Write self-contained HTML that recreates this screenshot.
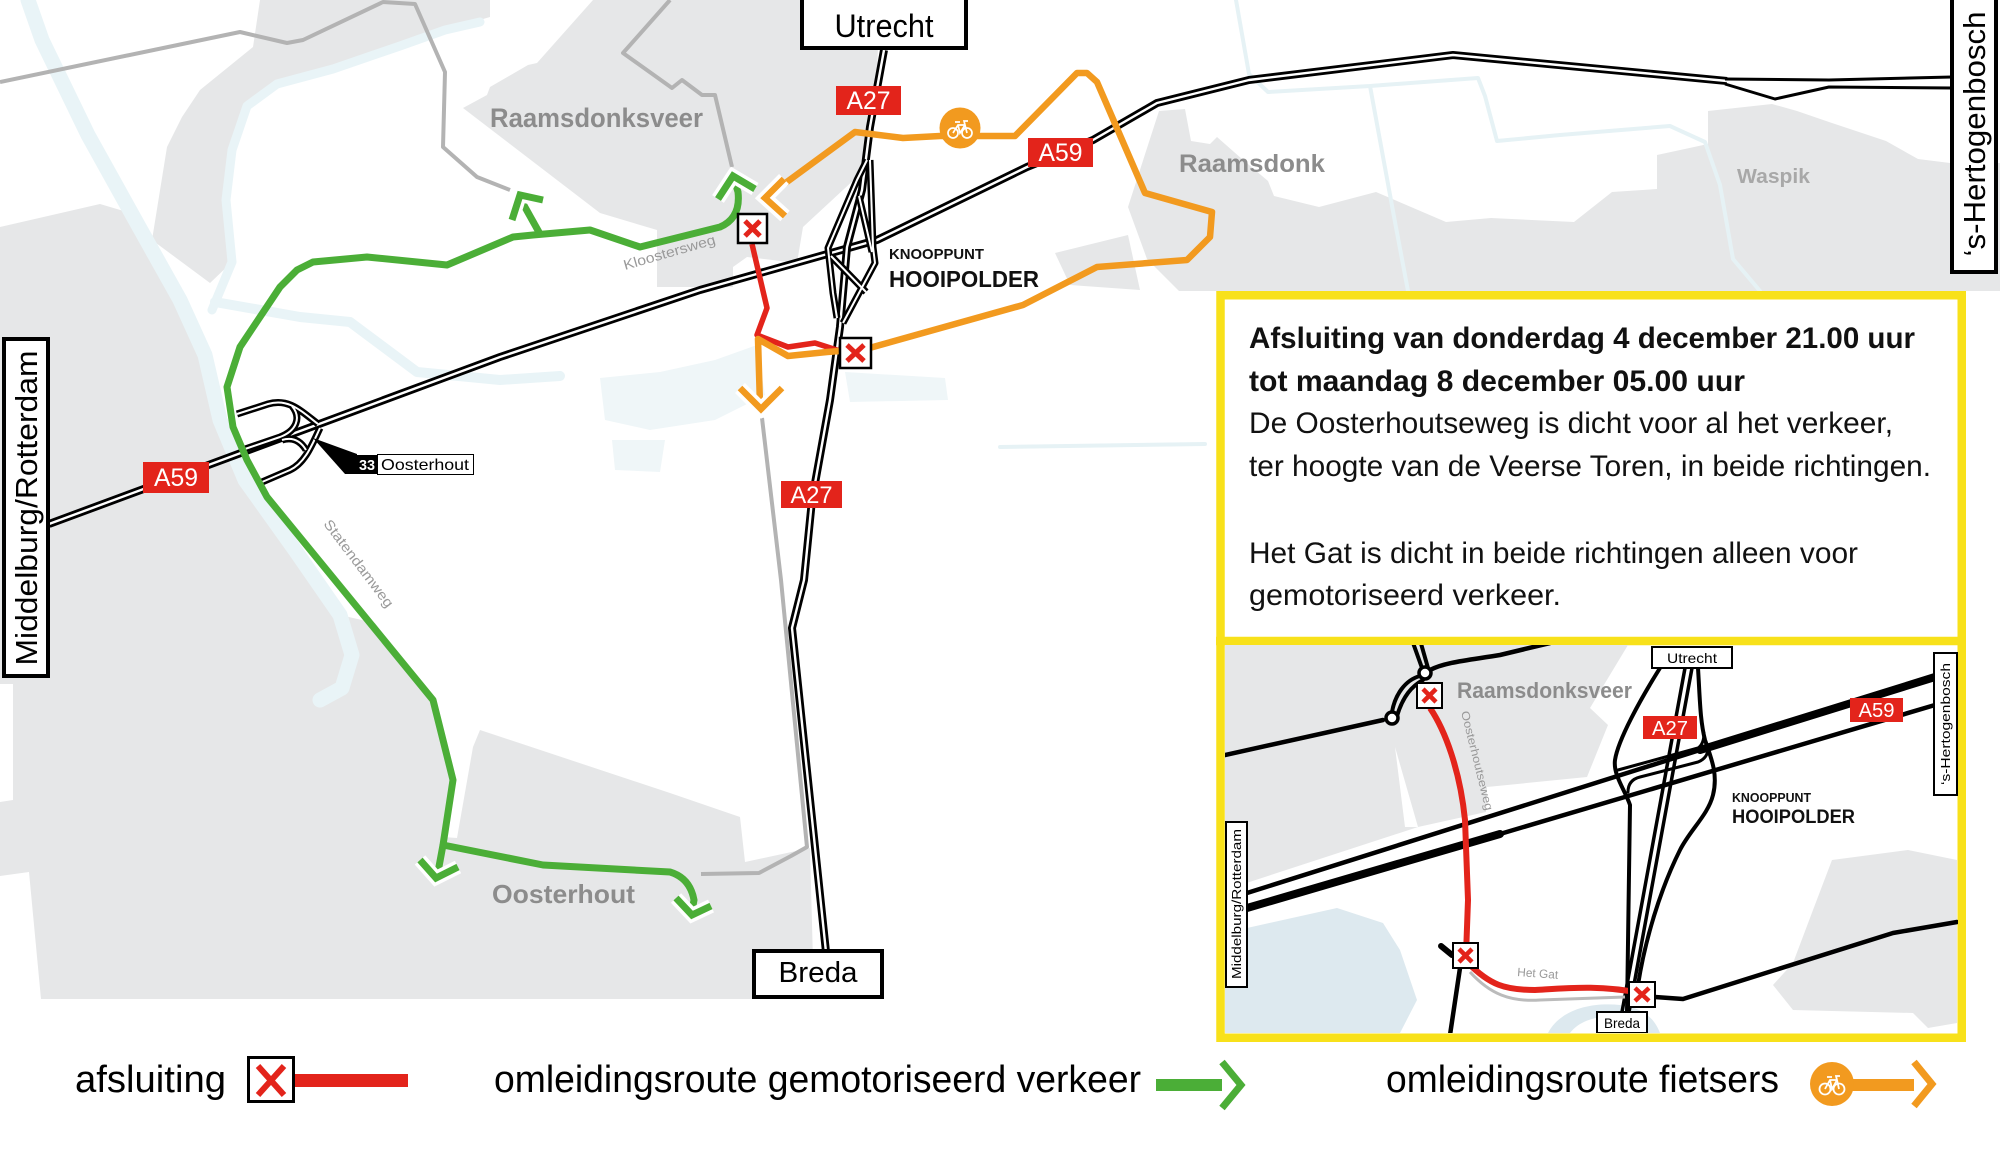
<!DOCTYPE html>
<html><head><meta charset="utf-8"><style>
html,body{margin:0;padding:0;background:#fff;}
svg{display:block;}
text{font-family:"Liberation Sans",sans-serif;}
</style></head><body>
<svg width="2000" height="1160" viewBox="0 0 2000 1160" xmlns="http://www.w3.org/2000/svg">
<defs>
<clipPath id="ic"><rect x="1225" y="645" width="733" height="388"/></clipPath>
</defs>
<rect width="2000" height="1160" fill="#fff"/>

<!-- land areas -->
<g fill="#e6e7e8">
<path d="M0,227 L100,204 L127,212 L138,225 L180,300 L205,355 L220,420 L245,480 L295,550 L340,615 L375,623 L433,700 L453,780 L443,837 L457,838 L473,747 L480,730 L670,793 L740,817 L745,862 L810,848 L814,999 L0,999 Z"/>
<path d="M253,47 L260,0 L490,0 L490,17 L445,30 L400,46 L333,69 L277,84 L247,106 L232,150 L226,200 L232,262 L210,283 L152,240 L167,147 L182,117 L200,90 Z"/>
<path d="M463,108 L487,95 L490,87 L528,65 L537,63 L593,0 L880,0 L875,120 L857,177 L803,227 L797,263 L747,257 L733,267 L733,287 L657,287 L657,230 L600,213 Z"/>
<path d="M1159,111 L1185,109 L1191,141 L1210,144 L1217,137 L1242,159 L1268,181 L1274,196 L1319,207 L1376,192 L1446,222 L1491,218 L1574,222 L1612,192 L1657,189 L1657,155 L1708,144 L1708,111 L1772,104 L1797,111 L1829,122 L1886,141 L1918,159 L1950,163 L2000,163 L2000,291 L1179,291 L1147,259 L1128,207 Z"/>
<path d="M1055,253 L1128,235 L1140,290 L1070,285 Z"/>
</g>
<g fill="#fff">
<path d="M0,876 L29,872 L41,999 L0,999 Z"/>
<path d="M0,684 L13,684 L13,800 L0,802 Z"/>
</g>

<!-- water -->
<g fill="none" stroke="#e9f4f7" stroke-linecap="round" stroke-linejoin="round">
<path stroke-width="15" d="M28,0 L42,40 L88,135 L138,225 L180,300 L205,355 L220,420 L245,480 L295,550 L340,615 L352,655 L342,688 L320,700"/>
<path stroke-width="9" d="M480,22 L445,30 L400,46 L333,69 L277,84 L247,106 L232,150 L226,200 L232,262 L212,310"/>
<path stroke-width="10" d="M215,302 L300,317 L350,322 L417,372 L500,380 L560,376"/>
<path stroke-width="4" stroke="#e6f2f5" d="M1236,0 L1249,74 L1268,92 L1370,86 L1478,78 L1485,96 L1497,141 L1560,135 L1670,126 L1705,142 L1720,185 L1733,259 L1760,291 M1370,86 L1395,222 L1408,291 M1000,447 L1205,444"/>
</g>
<g fill="#eff6f8">
<path d="M600,378 L660,372 L715,360 L757,345 L765,395 L715,420 L650,430 L605,420 Z"/>
<path d="M612,440 L665,440 L660,472 L615,470 Z"/>
<path d="M845,372 L945,378 L948,400 L850,402 Z"/>
</g>

<!-- gray roads -->
<g fill="none" stroke="#b3b3b3" stroke-width="4" stroke-linejoin="round">
<path d="M0,82 L240,32 L287,43 L303,40 L383,2 L415,4 L445,72 L443,147 L477,177 L510,190"/>
<path d="M670,0 L623,53 L672,88 L682,80 L702,95 L715,95 L732,167"/>
<path d="M762,418 L781,580 L807,847 L791,856 L759,873 L701,874"/>
</g>

<!-- highways -->
<g fill="none" stroke-linejoin="round">
<path stroke="#000" stroke-width="8" d="M49,524 L176,477 L500,357 L700,290 L877,240 L1027,167 L1093,140 L1157,103 L1249,80 L1453,55 L1727,81"/>
<path stroke="#fff" stroke-width="2.4" d="M49,524 L176,477 L500,357 L700,290 L877,240 L1027,167 L1093,140 L1157,103 L1249,80 L1453,55 L1727,81"/>
<path stroke="#000" stroke-width="3" d="M1725,79 L1829,80 L1952,77 M1725,84 L1775,99 L1829,87 L1952,88"/>
<!-- exit 33 interchange -->
<path stroke="#000" stroke-width="7" d="M237,414 L268,404 C288,398 300,410 318,424 M292,406 C302,418 296,431 280,437 L245,449 M262,482 L290,470 C305,463 312,445 320,428 M306,450 C300,440 292,437 282,440"/>
<path stroke="#fff" stroke-width="2" d="M237,414 L268,404 C288,398 300,410 318,424 M292,406 C302,418 296,431 280,437 L245,449 M262,482 L290,470 C305,463 312,445 320,428 M306,450 C300,440 292,437 282,440"/>
<!-- A27 -->
<path stroke="#000" stroke-width="8" d="M884,50 L870,127 L862,190 L847,247 L840,327 L830,400 L812,500 L804,580 L792,628 L826,952"/>
<path stroke="#fff" stroke-width="2.4" d="M884,50 L870,127 L862,190 L847,247 L840,327 L830,400 L812,500 L804,580 L792,628 L826,952"/>
<!-- Hooipolder ramps -->
<path stroke="#000" stroke-width="7" d="M867,160 L857,180 L828,248 L833,293 L837,318 M870,160 L873,247 L875,263 L843,323 M859,196 L872,252 M831,256 L866,292"/>
<path stroke="#fff" stroke-width="2" d="M867,160 L857,180 L828,248 L833,293 L837,318 M870,160 L873,247 L875,263 L843,323 M859,196 L872,252 M831,256 L866,292"/>
</g>

<!-- exit label -->
<path d="M313,438 L357,454 L357,474 L345,474 Z" fill="#000"/>
<rect x="357" y="455" width="20" height="19" fill="#000"/>
<text x="367" y="470" font-size="15" font-weight="bold" fill="#fff" text-anchor="middle" textLength="16" lengthAdjust="spacingAndGlyphs">33</text>
<rect x="377.5" y="454.5" width="96" height="20" fill="#fff" stroke="#000" stroke-width="1"/>
<text x="381" y="470" font-size="16" fill="#000" textLength="88" lengthAdjust="spacingAndGlyphs">Oosterhout</text>

<!-- red closure -->
<path d="M752,244 L767,308 L757,335 L788,347 L815,343 L840,351" fill="none" stroke="#e3241b" stroke-width="5.5" stroke-linejoin="round"/>

<!-- orange route -->
<g fill="none" stroke-linejoin="round">
<path stroke="#f29a1f" stroke-width="6.5" d="M765,198 L855,132 L903,138 L940,136 L1015,136 L1077,73 L1087,73 L1097,82 L1145,193 L1212,212 L1210,237 L1187,260 L1097,267 L1023,305 L873,347 L856,352"/>
<path stroke="#f29a1f" stroke-width="6.5" d="M840,351 L827,352 L788,356 L758,339 L760,405"/>
<path stroke="#fff" stroke-width="14" stroke-linejoin="miter" d="M784,179 L765,198 L785,216 M740,388 L761,409 L782,388"/>
<path stroke="#f29a1f" stroke-width="6.5" stroke-linejoin="miter" d="M784,179 L765,198 L785,216 M740,388 L761,409 L782,388"/>
</g>
<circle cx="960" cy="128" r="20.5" fill="#f29a1f"/>
<g transform="translate(960,130)" stroke="#fff" stroke-width="1.7" fill="none"><circle cx="-7" cy="3" r="5"/><circle cx="7" cy="3" r="5"/><path d="M-7,3 L-2,-5 L5,-5 L7,3 M-2,-5 L0,3 L5,-5 M-5,-8 L0,-8 M5,-5 L4,-9 L8,-9"/></g>

<!-- green route -->
<g fill="none" stroke-linejoin="round">
<path stroke="#4bae37" stroke-width="7" d="M735,182 L738,192 Q741,218 720,227 L640,247 L590,230 L533,235 L513,237 L447,265 L367,257 L313,262 L297,270 L280,287 L240,347 L227,387 L233,427 L247,460 L267,497 L433,700 L453,780 L443,845 L438,872"/>
<path stroke="#4bae37" stroke-width="7" d="M540,234 L521,200"/>
<path stroke="#4bae37" stroke-width="7" d="M443,845 L543,865 L670,872 Q690,878 694,900 L692,911"/>
<path stroke="#fff" stroke-width="14" stroke-linejoin="miter" d="M718,199 L733,176 L755,189 M512,220 L520,195 L543,200 M420,860 L436,878 L458,867 M676,898 L692,915 L711,906"/>
<path stroke="#4bae37" stroke-width="7" stroke-linejoin="miter" d="M718,199 L733,176 L755,189 M512,220 L520,195 L543,200 M420,860 L436,878 L458,867 M676,898 L692,915 L711,906"/>
</g>

<!-- X boxes -->
<g>
<rect x="738" y="214" width="29" height="29" fill="#fff" stroke="#000" stroke-width="2.5"/>
<path d="M745,221 L760,236 M760,221 L745,236" stroke="#e3241b" stroke-width="5"/>
<rect x="840" y="338" width="31" height="30" fill="#fff" stroke="#000" stroke-width="2.5"/>
<path d="M847,345 L864,361 M864,345 L847,361" stroke="#e3241b" stroke-width="5"/>
</g>

<!-- road labels -->
<g>
<rect x="143" y="462" width="66" height="31" fill="#e3241b"/>
<text x="176" y="486" font-size="25" fill="#fff" text-anchor="middle" textLength="44" lengthAdjust="spacingAndGlyphs">A59</text>
<rect x="836" y="86" width="65" height="29" fill="#e3241b"/>
<text x="868.5" y="109" font-size="25" fill="#fff" text-anchor="middle" textLength="44" lengthAdjust="spacingAndGlyphs">A27</text>
<rect x="1028" y="138" width="65" height="29" fill="#e3241b"/>
<text x="1060.5" y="161" font-size="25" fill="#fff" text-anchor="middle" textLength="44" lengthAdjust="spacingAndGlyphs">A59</text>
<rect x="781" y="481" width="61" height="27" fill="#e3241b"/>
<text x="811.5" y="503" font-size="24" fill="#fff" text-anchor="middle" textLength="42" lengthAdjust="spacingAndGlyphs">A27</text>
</g>

<!-- place labels -->
<g font-weight="bold" fill="#8c8c8c">
<text x="490" y="127" font-size="27" textLength="213" lengthAdjust="spacingAndGlyphs">Raamsdonksveer</text>
<text x="1179" y="172" font-size="25" textLength="146" lengthAdjust="spacingAndGlyphs">Raamsdonk</text>
<text x="1737" y="183" font-size="20" fill="#a8a8a8" textLength="73" lengthAdjust="spacingAndGlyphs">Waspik</text>
<text x="492" y="903" font-size="26" textLength="143" lengthAdjust="spacingAndGlyphs">Oosterhout</text>
</g>
<text x="889" y="259" font-size="15" font-weight="bold" fill="#111" textLength="95" lengthAdjust="spacingAndGlyphs">KNOOPPUNT</text>
<text x="889" y="287" font-size="23" font-weight="bold" fill="#111" textLength="150" lengthAdjust="spacingAndGlyphs">HOOIPOLDER</text>
<text transform="translate(625,270) rotate(-16)" font-size="14" fill="#9a9a9a" textLength="95" lengthAdjust="spacingAndGlyphs">Kloostersweg</text>
<text transform="translate(323,524) rotate(53)" font-size="14" fill="#9a9a9a" textLength="106" lengthAdjust="spacingAndGlyphs">Statendamweg</text>

<!-- direction boxes -->
<rect x="802" y="-5" width="164" height="53" fill="#fff" stroke="#000" stroke-width="4"/>
<text x="884" y="37" font-size="32" text-anchor="middle" textLength="99" lengthAdjust="spacingAndGlyphs">Utrecht</text>
<rect x="754" y="951" width="128" height="46" fill="#fff" stroke="#000" stroke-width="4"/>
<text x="818" y="982" font-size="29" text-anchor="middle" textLength="79" lengthAdjust="spacingAndGlyphs">Breda</text>
<rect x="4" y="339" width="44" height="337" fill="#fff" stroke="#000" stroke-width="4"/>
<text transform="translate(37,508) rotate(-90)" font-size="31" text-anchor="middle" textLength="315" lengthAdjust="spacingAndGlyphs">Middelburg/Rotterdam</text>
<rect x="1952" y="-5" width="44" height="277" fill="#fff" stroke="#000" stroke-width="4"/>
<text transform="translate(1985,134) rotate(-90)" font-size="31" text-anchor="middle" textLength="245" lengthAdjust="spacingAndGlyphs">‘s-Hertogenbosch</text>

<!-- info box -->
<rect x="1220.5" y="295.25" width="741.25" height="742.5" fill="#fff" stroke="#f8e11a" stroke-width="8.5"/>
<line x1="1216" y1="641" x2="1966" y2="641" stroke="#f8e11a" stroke-width="8.5"/>
<g fill="#111">
<text x="1249" y="348" font-size="30" font-weight="bold" textLength="666" lengthAdjust="spacingAndGlyphs">Afsluiting van donderdag 4 december 21.00 uur</text>
<text x="1249" y="391" font-size="30" font-weight="bold" textLength="496" lengthAdjust="spacingAndGlyphs">tot maandag 8 december 05.00 uur</text>
<text x="1249" y="433" font-size="30" textLength="644" lengthAdjust="spacingAndGlyphs">De Oosterhoutseweg is dicht voor al het verkeer,</text>
<text x="1249" y="476" font-size="30" textLength="682" lengthAdjust="spacingAndGlyphs">ter hoogte van de Veerse Toren, in beide richtingen.</text>
<text x="1249" y="563" font-size="30" textLength="609" lengthAdjust="spacingAndGlyphs">Het Gat is dicht in beide richtingen alleen voor</text>
<text x="1249" y="605" font-size="30" textLength="312" lengthAdjust="spacingAndGlyphs">gemotoriseerd verkeer.</text>
</g>

<!-- inset map -->
<g clip-path="url(#ic)">
<g fill="#e6e7e8">
<path d="M1225,645 L1628,645 L1590,708 L1608,725 L1587,777 L1487,787 L1486,812 L1418,827 L1225,890 Z"/>
<path d="M1832,860 L1908,850 L1957,860 L1957,1023 L1928,1028 L1913,1013 L1793,1010 L1773,985 L1793,963 L1813,910 Z"/>
</g>
<path d="M1395,747 L1405,827 L1418,827 Z" fill="#fff"/>
<path d="M1225,930 L1247,928 L1337,908 L1383,923 L1400,950 L1417,1000 L1400,1033 L1225,1033 Z" fill="#dde9ef"/>
<path d="M1548,1033 C1560,1010 1590,1002 1620,1005 C1645,1008 1655,1020 1660,1033 L1645,1033 C1640,1024 1632,1018 1620,1017 C1598,1015 1580,1020 1570,1033 Z" fill="#dde9ef"/>
<g fill="none" stroke="#000" stroke-linejoin="round" stroke-linecap="round">
<path stroke-width="4.5" d="M1225,755 L1383,720"/>
<path stroke-width="4" d="M1392,712 C1395,695 1405,680 1420,676 M1397,716 C1403,696 1412,686 1423,680"/>
<path stroke-width="4" d="M1422,668 L1412,640 M1428,668 L1420,640"/>
<path stroke-width="4.5" d="M1430,670 C1445,662 1470,660 1500,655 L1550,643"/>
<path stroke-width="4.5" d="M1247,893 L1700,750"/>
<path stroke-width="8" d="M1700,750 L1935,677"/>
<path stroke-width="8" d="M1247,908 L1500,834"/>
<path stroke-width="4.5" d="M1500,834 L1935,705"/>
<path stroke-width="3.5" d="M1685,668 L1622,1012 M1692,668 L1629,1012"/>
<path stroke-width="4" d="M1660,668 C1640,700 1618,740 1615,760 C1613,775 1625,790 1630,805 L1627,1012"/>
<path stroke-width="4" d="M1698,668 C1700,700 1700,720 1705,740 C1712,760 1718,775 1713,795 C1708,815 1690,830 1680,850 C1660,890 1645,940 1638,985"/>
<path stroke-width="3" d="M1628,792 Q1628,780 1640,777 L1698,762 Q1708,758 1708,748 M1618,770 L1698,748 Q1704,744 1704,733"/>
<path stroke-width="4.5" d="M1655,997 L1683,999 L1893,933 L1957,922"/>
<path stroke-width="4.5" d="M1460,968 L1450,1035"/>
<path stroke-width="6" d="M1441,946 L1452,955"/>
</g>
<circle cx="1392" cy="718" r="6" fill="#fff" stroke="#000" stroke-width="3.5"/>
<circle cx="1425" cy="673" r="6" fill="#fff" stroke="#000" stroke-width="3.5"/>
<path d="M1470,972 C1490,994 1510,1002 1540,1000 L1625,997" fill="none" stroke="#bbb" stroke-width="3"/>
<path d="M1430,708 C1445,730 1460,770 1465,820 L1468,900 L1466,955" fill="none" stroke="#e3241b" stroke-width="6"/>
<path d="M1468,963 C1490,985 1505,990 1535,990 C1570,988 1600,985 1640,993" fill="none" stroke="#e3241b" stroke-width="6"/>
<g fill="#fff" stroke="#000" stroke-width="2">
<rect x="1417" y="683" width="25" height="25"/>
<rect x="1453" y="943" width="25" height="25"/>
<rect x="1629" y="982" width="26" height="25"/>
</g>
<path d="M1423,689 L1436,702 M1436,689 L1423,702 M1459,949 L1472,962 M1472,949 L1459,962 M1635,988 L1649,1001 M1649,988 L1635,1001" stroke="#e3241b" stroke-width="4.5"/>
<text x="1457" y="698" font-size="22" font-weight="bold" fill="#8c8c8c" textLength="175" lengthAdjust="spacingAndGlyphs">Raamsdonksveer</text>
<text transform="translate(1461,712) rotate(76)" font-size="11.5" fill="#999" textLength="102" lengthAdjust="spacingAndGlyphs">Oosterhoutseweg</text>
<text transform="translate(1517,976) rotate(4)" font-size="12" fill="#999" textLength="41" lengthAdjust="spacingAndGlyphs">Het Gat</text>
<rect x="1643" y="716" width="54" height="23" fill="#e3241b"/>
<text x="1670" y="735" font-size="20" fill="#fff" text-anchor="middle" textLength="36" lengthAdjust="spacingAndGlyphs">A27</text>
<rect x="1850" y="698" width="53" height="24" fill="#e3241b"/>
<text x="1876.5" y="717" font-size="20" fill="#fff" text-anchor="middle" textLength="36" lengthAdjust="spacingAndGlyphs">A59</text>
<text x="1732" y="802" font-size="12.5" font-weight="bold" fill="#111" textLength="79" lengthAdjust="spacingAndGlyphs">KNOOPPUNT</text>
<text x="1732" y="823" font-size="19" font-weight="bold" fill="#111" textLength="123" lengthAdjust="spacingAndGlyphs">HOOIPOLDER</text>
<g fill="#fff" stroke="#000" stroke-width="2">
<rect x="1652" y="647" width="80" height="21"/>
<rect x="1597" y="1012" width="50" height="21"/>
<rect x="1934" y="653" width="23" height="142"/>
<rect x="1226" y="822" width="21" height="165"/>
</g>
<text x="1692" y="663" font-size="14" text-anchor="middle" textLength="50" lengthAdjust="spacingAndGlyphs">Utrecht</text>
<text x="1622" y="1028" font-size="14" text-anchor="middle" textLength="36" lengthAdjust="spacingAndGlyphs">Breda</text>
<text transform="translate(1950,724) rotate(-90)" font-size="13" text-anchor="middle" textLength="122" lengthAdjust="spacingAndGlyphs">‘s-Hertogenbosch</text>
<text transform="translate(1241,904) rotate(-90)" font-size="13" text-anchor="middle" textLength="150" lengthAdjust="spacingAndGlyphs">Middelburg/Rotterdam</text>
</g>

<!-- legend -->
<text x="75" y="1092" font-size="38" textLength="151" lengthAdjust="spacingAndGlyphs">afsluiting</text>
<rect x="248.5" y="1057.5" width="45" height="44" fill="#fff" stroke="#000" stroke-width="3"/>
<path d="M258,1066 L284,1095 M284,1066 L258,1095" stroke="#e3241b" stroke-width="6"/>
<rect x="295" y="1074" width="113" height="13" fill="#e3241b"/>
<text x="494" y="1092" font-size="38" textLength="647" lengthAdjust="spacingAndGlyphs">omleidingsroute gemotoriseerd verkeer</text>
<rect x="1156" y="1079" width="66" height="12" fill="#4bae37"/>
<path d="M1222,1062 L1241,1085 L1222,1108" fill="none" stroke="#4bae37" stroke-width="7"/>
<text x="1386" y="1092" font-size="38" textLength="393" lengthAdjust="spacingAndGlyphs">omleidingsroute fietsers</text>
<rect x="1850" y="1079" width="64" height="12" fill="#f29a1f"/>
<path d="M1914,1062 L1932,1084 L1914,1106" fill="none" stroke="#f29a1f" stroke-width="7"/>
<circle cx="1832" cy="1084" r="22" fill="#f29a1f"/>
<g transform="translate(1832,1086)" stroke="#fff" stroke-width="1.8" fill="none"><circle cx="-7" cy="3" r="5.5"/><circle cx="7" cy="3" r="5.5"/><path d="M-7,3 L-2,-6 L5,-6 L7,3 M-2,-6 L0,3 L5,-6 M-5,-9 L0,-9 M5,-6 L4,-10 L8,-10"/></g>
</svg>
</body></html>
